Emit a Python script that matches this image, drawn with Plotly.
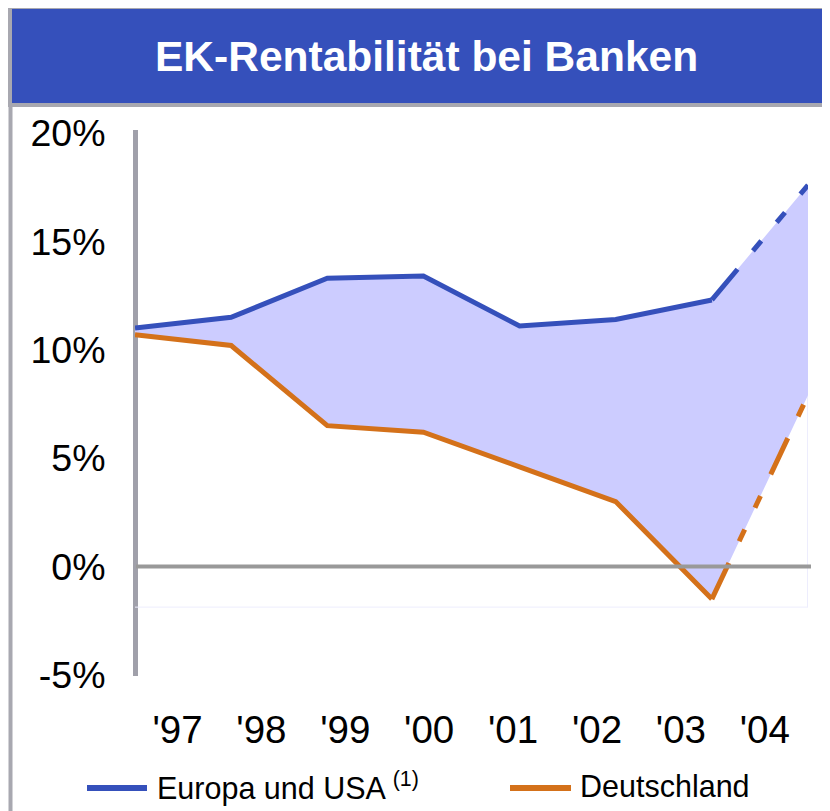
import plotly.graph_objects as go

# ---- data ----
years = ["'97", "'98", "'99", "'00", "'01", "'02", "'03", "'04"]
europa_usa = [11.0, 11.5, 13.3, 13.4, 11.1, 11.4, 12.3, 17.6]
deutschland = [10.7, 10.2, 6.5, 6.2, 4.6, 3.0, -1.5, 7.9]
y_ticks = [-5, 0, 5, 10, 15, 20]
y_tick_labels = ["-5%", "0%", "5%", "10%", "15%", "20%"]
title_text = "EK-Rentabilität bei Banken"
legend_names = ["Europa und USA", "Deutschland"]

# ---- style ----
OFF = 8                      # page body margin offset
SW, SH = 830, 811            # screenshot size
W, H = SW, SH - OFF          # figure size
# plot area in screenshot pixels: x 135..808, y 133..675
L, R, T = 135 - OFF, W + OFF - 808, 133 - OFF
B = H + OFF - 675
BLUE = "#3550BB"
ORANGE = "#D4711A"
FILL = "#CCCCFF"
AXIS_GRAY = "#A0A0AA"
ZERO_GRAY = "#999999"
BORDER_GRAY = "#A8A8B0"
FONT = "Liberation Sans, Arial, sans-serif"
DASH = "40px,24px,13px,24px,13px,24px"


def px(x):
    """screenshot x pixel -> paper coordinate"""
    return (x - OFF - L) / (W - L - R)


def py(y):
    """screenshot y pixel -> paper coordinate"""
    return (H - B - (y - OFF)) / (H - T - B)


fig = go.Figure()

# band between the two series
fig.add_trace(go.Scatter(
    x=years + years[::-1], y=europa_usa + deutschland[::-1],
    fill="toself", fillcolor=FILL, line=dict(width=0), mode="lines",
    showlegend=False, hoverinfo="skip"))

# solid parts
fig.add_trace(go.Scatter(x=years[:7], y=europa_usa[:7], mode="lines",
                         line=dict(color=BLUE, width=5), showlegend=False))
fig.add_trace(go.Scatter(x=years[:7], y=deutschland[:7], mode="lines",
                         line=dict(color=ORANGE, width=5), showlegend=False))
# dashed (forecast) parts
fig.add_trace(go.Scatter(x=years[6:], y=europa_usa[6:], mode="lines",
                         line=dict(color=BLUE, width=5, dash=DASH), showlegend=False))
fig.add_trace(go.Scatter(x=years[6:], y=deutschland[6:], mode="lines",
                         line=dict(color=ORANGE, width=5, dash=DASH), showlegend=False))

# invisible trace to carry the year labels axis
fig.add_trace(go.Scatter(x=years, y=[None] * len(years), xaxis="x2",
                         mode="lines", showlegend=False, hoverinfo="skip"))

shapes = [
    # faint plot-area remnant
    dict(type="line", xref="x", yref="y", x0=0, x1=7, y0=-1.87, y1=-1.87,
         line=dict(color="#EDEDFD", width=1), layer="below"),
    dict(type="line", xref="paper", yref="y", x0=px(807.5), x1=px(807.5),
         y0=-1.87, y1=7.9, line=dict(color="#EDEDFD", width=1), layer="below"),
    # y axis line
    dict(type="line", xref="paper", yref="paper", x0=px(135.5), x1=px(135.5),
         y0=py(676), y1=py(130), line=dict(color=AXIS_GRAY, width=5),
         layer="below"),
    # zero line
    dict(type="line", xref="paper", yref="y", x0=px(136), x1=px(811),
         y0=0, y1=0, line=dict(color=ZERO_GRAY, width=4), layer="above"),
    # title bar
    dict(type="rect", xref="paper", yref="paper",
         x0=px(10), x1=px(850), y0=py(105), y1=py(7),
         fillcolor=BLUE, line=dict(color=BORDER_GRAY, width=4)),
    # left panel border
    dict(type="line", xref="paper", yref="paper",
         x0=px(10.5), x1=px(10.5), y0=py(107), y1=py(820),
         line=dict(color=BORDER_GRAY, width=4)),
    # legend samples
    dict(type="line", xref="paper", yref="paper",
         x0=px(87), x1=px(147), y0=py(788), y1=py(788),
         line=dict(color=BLUE, width=6)),
    dict(type="line", xref="paper", yref="paper",
         x0=px(510), x1=px(571), y0=py(788), y1=py(788),
         line=dict(color=ORANGE, width=6)),
]

annotations = [
    dict(text="<b>" + title_text + "</b>", xref="paper", yref="paper",
         x=px(426), y=py(57), xanchor="center", yanchor="middle",
         showarrow=False, font=dict(family=FONT, size=42.5, color="white")),
    dict(text=legend_names[0] + " <sup>(1)</sup>", xref="paper", yref="paper",
         x=px(155), y=py(786), xanchor="left", yanchor="middle",
         showarrow=False, font=dict(family=FONT, size=30.5, color="black")),
    dict(text=legend_names[1], xref="paper", yref="paper",
         x=px(578), y=py(786), xanchor="left", yanchor="middle",
         showarrow=False, font=dict(family=FONT, size=30.5, color="black")),
]

fig.update_layout(
    width=W, height=H, autosize=False,
    margin=dict(l=L, r=R, t=T, b=B, pad=0),
    paper_bgcolor="white", plot_bgcolor="rgba(0,0,0,0)",
    font=dict(family=FONT, color="black"),
    showlegend=False,
    xaxis=dict(type="category", categoryorder="array", categoryarray=years,
               range=[0, 7], showticklabels=False, showgrid=False,
               zeroline=False, showline=False, ticks=""),
    xaxis2=dict(type="category", categoryorder="array", categoryarray=years,
                overlaying="x", anchor="y", side="bottom",
                range=[-(177.5 - 135) / 83.9, (808 - 177.5) / 83.9],
                showgrid=False, zeroline=False, showline=False,
                ticks="outside", ticklen=21, tickcolor="rgba(0,0,0,0)",
                tickfont=dict(family=FONT, size=38.5, color="black")),
    yaxis=dict(range=[-5, 20], tickvals=y_ticks, ticktext=y_tick_labels,
               showgrid=False, zeroline=False, showline=False,
               ticks="outside", ticklen=21, tickcolor="rgba(0,0,0,0)",
               tickfont=dict(family=FONT, size=37.5, color="black")),
    shapes=shapes,
    annotations=annotations,
)

fig.write_html("out.html")
